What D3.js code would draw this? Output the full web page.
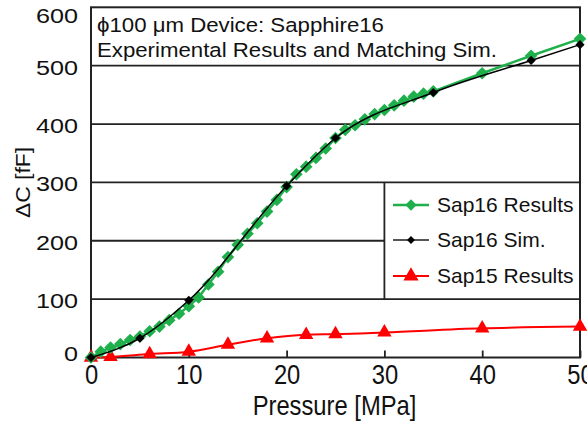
<!DOCTYPE html>
<html>
<head>
<meta charset="utf-8">
<script src="https://cdn.jsdelivr.net/npm/d3@7"></script>
<style>
  body { margin: 0; background: #fff; }
  text { font-family: "Liberation Sans", Arial, sans-serif; fill: #111; }
</style>
</head>
<body>
<div id="chart"></div>
<script>
// Sap16 measured results (pressure MPa, dC fF)
const sap16P = [0,1,2,3,4,5,6,7,8,9,10,11,12,13,14,15,16,17,18,19,20,21,22,23,24,25,26,27,28,29,30,31,32,33,34,35,40,45,50];
const sap16C = [0,10,17,23,30,36,45,53,64,75,88,103,125,147,172,193,212,230,250,270,292,314,327,342,358,376,390,398,408,417,424,432,440,447,452,456,487,517,546];

// Sap16 simulation
const simP = [0,5,10,20,25,35,45,50];
const simC = [0,33,98,294,376,454,509,536];

// Sap15 measured results
const sap15P = [0,2,6,10,14,18,22,25,30,40,50];
const sap15C = [0,1,6,10,22,33,39,40,43,50,53];

const xTicks = [0,10,20,30,40,50];
const yTicks = [0,100,200,300,400,500,600];

const legendNames = ["Sap16 Results", "Sap16 Sim.", "Sap15 Results"];

const width = 587, height = 421;
const mLeft = 91, mRight = 580, mTop = 7.3, mBottom = 357.5;

const green = "#1fb04c", red = "#ff0000";

// rotated square marker
const diamond = {
  draw(ctx, size) {
    const r = Math.sqrt(size) / Math.SQRT2;
    ctx.moveTo(0, -r); ctx.lineTo(r, 0); ctx.lineTo(0, r); ctx.lineTo(-r, 0); ctx.closePath();
  }
};

const svg = d3.select("#chart")
              .append("svg")
              .attr("width", width)
              .attr("height", height);

const x = d3.scaleLinear().domain([0, 50]).range([mLeft, mRight]);
const y = d3.scaleLinear().domain([0, 600]).range([mBottom, mTop]);

// gridlines (the 200 line stops at the legend box)
svg.append("g")
   .selectAll("line")
   .data(yTicks.filter(d => d > 0 && d < 600))
   .join("line")
   .attr("x1", mLeft)
   .attr("x2", d => d === 200 ? x(30) : mRight)
   .attr("y1", d => y(d))
   .attr("y2", d => y(d))
   .attr("stroke", "#222")
   .attr("stroke-width", 1.8);

// legend box left edge
svg.append("line")
   .attr("x1", x(30)).attr("x2", x(30))
   .attr("y1", y(300)).attr("y2", y(100))
   .attr("stroke", "#222").attr("stroke-width", 1.8);

// x axis: inside ticks
const xAxis = svg.append("g")
   .attr("transform", `translate(0, ${mBottom})`)
   .call(d3.axisBottom(x).tickValues(xTicks).tickSize(-7).tickPadding(0));
xAxis.select(".domain").remove();
xAxis.selectAll("line").attr("stroke", "#222").attr("stroke-width", 1.8);
xAxis.selectAll("text")
     .attr("font-size", 27)
     .attr("fill", "#111")
     .attr("dy", null)
     .attr("y", 0)
     .attr("transform", "translate(0, 26) scale(0.88, 1)");

// y axis labels only (0 and 600 pulled inward like the original)
const yAxis = svg.append("g")
   .attr("transform", `translate(${mLeft}, 0)`)
   .call(d3.axisLeft(y).tickValues(yTicks).tickSize(0).tickPadding(0));
yAxis.select(".domain").remove();
yAxis.selectAll("text")
     .attr("font-size", 21)
     .attr("fill", "#111")
     .attr("x", 0)
     .attr("dy", "0.36em")
     .attr("transform", d => `translate(-13, ${d === 600 ? 7.5 : d === 0 ? -5 : 1}) scale(1.2, 1)`);

// frame
svg.append("rect")
   .attr("x", mLeft).attr("y", mTop)
   .attr("width", mRight - mLeft).attr("height", mBottom - mTop)
   .attr("fill", "none").attr("stroke", "#222").attr("stroke-width", 2);

// axis titles
svg.append("text")
   .attr("transform", `translate(${(mLeft + mRight) / 2 - 1}, 415) scale(0.88, 1)`)
   .attr("text-anchor", "middle").attr("font-size", 27)
   .text("Pressure [MPa]");

svg.append("text")
   .attr("transform", `translate(30, 182.5) rotate(-90) scale(1.09, 1)`)
   .attr("text-anchor", "middle").attr("font-size", 21)
   .text("ΔC [fF]");

// title
svg.append("text").attr("transform", "translate(97, 31.5) scale(1.14, 1)").attr("font-size", 19.5)
   .text("ϕ100 μm Device: Sapphire16");
svg.append("text").attr("transform", "translate(97, 56.5) scale(1.14, 1)").attr("font-size", 19.5)
   .text("Experimental Results and Matching Sim.");

const plot = svg.append("g");

// Sap15
const s15 = sap15P.map((p, i) => ({ p, c: sap15C[i] }));
plot.append("path")
    .datum(s15)
    .attr("d", d3.line().x(d => x(d.p)).y(d => y(d.c)).curve(d3.curveMonotoneX))
    .attr("fill", "none").attr("stroke", red).attr("stroke-width", 2);
plot.selectAll(".t15")
    .data(s15)
    .join("path")
    .attr("transform", d => `translate(${x(d.p)}, ${y(d.c)})`)
    .attr("d", d3.symbol().type(d3.symbolTriangle).size(90))
    .attr("fill", red);

// Sap16 results
const s16 = sap16P.map((p, i) => ({ p, c: sap16C[i] }));
plot.append("path")
    .datum(s16)
    .attr("d", d3.line().x(d => x(d.p)).y(d => y(d.c)))
    .attr("fill", "none").attr("stroke", green).attr("stroke-width", 2.5);
plot.selectAll(".d16")
    .data(s16)
    .join("path")
    .attr("transform", d => `translate(${x(d.p)}, ${y(d.c)})`)
    .attr("d", d3.symbol().type(diamond).size(80))
    .attr("fill", green);

// Sap16 sim
const sim = simP.map((p, i) => ({ p, c: simC[i] }));
plot.append("path")
    .datum(sim)
    .attr("d", d3.line().x(d => x(d.p)).y(d => y(d.c)).curve(d3.curveMonotoneX))
    .attr("fill", "none").attr("stroke", "#000").attr("stroke-width", 1.5);
plot.selectAll(".sim")
    .data(sim)
    .join("path")
    .attr("transform", d => `translate(${x(d.p)}, ${y(d.c)})`)
    .attr("d", d3.symbol().type(diamond).size(42))
    .attr("fill", "#000");

// legend
const legendStyle = [
  { color: green, line: green, sym: diamond, size: 64, lw: 2.5 },
  { color: "#000", line: "#555", sym: diamond, size: 32, lw: 2 },
  { color: red, line: red, sym: d3.symbolTriangle, size: 100, lw: 2 }
];
const legendRows = [205, 240, 276];
const lg = svg.append("g");
legendNames.forEach((name, i) => {
  const st = legendStyle[i], ly = legendRows[i];
  lg.append("line")
    .attr("x1", 393).attr("x2", 429).attr("y1", ly).attr("y2", ly)
    .attr("stroke", st.line).attr("stroke-width", st.lw);
  lg.append("path")
    .attr("transform", `translate(411, ${ly})`)
    .attr("d", d3.symbol().type(st.sym).size(st.size))
    .attr("fill", st.color);
  lg.append("text")
    .attr("x", 437).attr("y", ly + 6.8).attr("font-size", 21)
    .text(name);
});
</script>
</body>
</html>
